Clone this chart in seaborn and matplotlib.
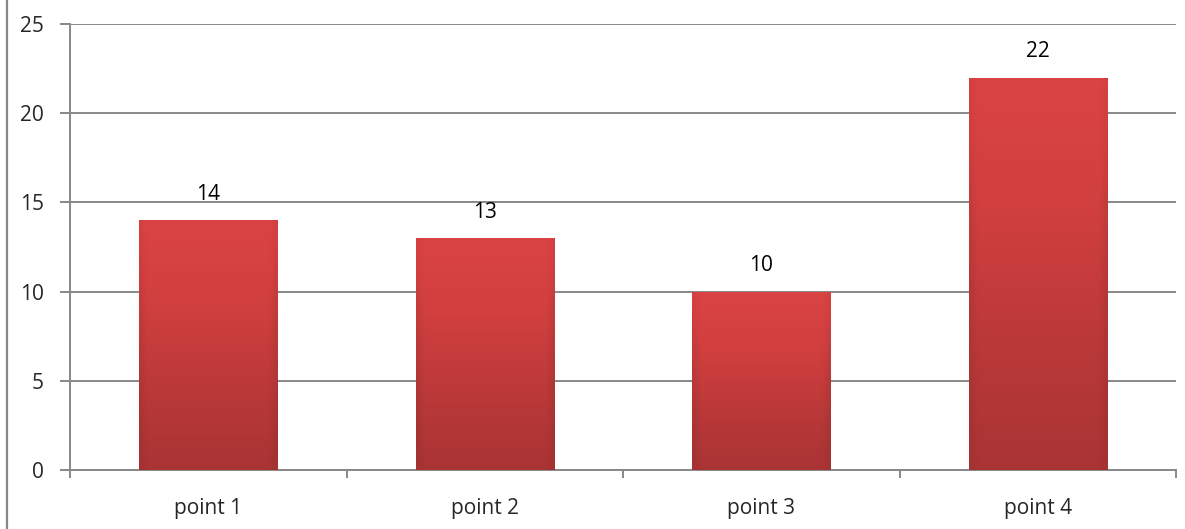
import numpy as np
import pandas as pd
import matplotlib
matplotlib.use("Agg")
import matplotlib.pyplot as plt
from matplotlib.colors import LinearSegmentedColormap
from matplotlib.lines import Line2D
import seaborn as sns

CATEGORIES = ["point 1", "point 2", "point 3", "point 4"]
VALUES = [14, 13, 10, 22]
Y_TICKS = [0, 5, 10, 15, 20, 25]

GRID_COLOR = "#888888"
BAR_CMAP = LinearSegmentedColormap.from_list(
    "excel_red", ["#a43232", "#b83838", "#d13f3f", "#dc4444"]
)


def shade_bars(ax):
    # vertical gradient with darker side edges, clipped to each bar
    ny, nx = 200, 60
    vert = np.linspace(0.0, 1.0, ny)[:, None]
    xs = np.linspace(-1, 1, nx)[None, :]
    edge = 0.2 * np.clip(np.abs(xs) - 0.88, 0, None) / 0.12
    shade = np.clip(vert * 0.85 + 0.1 - edge, 0, 1)
    for patch in ax.patches:
        x0, y0 = patch.get_x(), patch.get_y()
        w, h = patch.get_width(), patch.get_height()
        im = ax.imshow(
            shade,
            cmap=BAR_CMAP,
            vmin=0,
            vmax=1,
            origin="lower",
            extent=(x0, x0 + w, y0, y0 + h),
            aspect="auto",
            zorder=patch.get_zorder() + 0.1,
            interpolation="bilinear",
        )
        im.set_clip_path(patch)


def main():
    sns.set_style("white")
    plt.rcParams["font.family"] = ["Open Sans", "DejaVu Sans"]

    df = pd.DataFrame({"label": CATEGORIES, "value": VALUES})

    fig = plt.figure(figsize=(11.85, 5.29), dpi=100)
    ax = fig.add_axes([70 / 1185, 1 - 470 / 529, (1176 - 70) / 1185, (470 - 24) / 529])

    sns.barplot(
        data=df, x="label", y="value", color="#c83a3a", width=0.5,
        edgecolor="none", ax=ax, zorder=3,
    )
    shade_bars(ax)

    ax.set_xlim(-0.5, len(CATEGORIES) - 0.5)
    ax.set_ylim(Y_TICKS[0], Y_TICKS[-1])
    ax.set_yticks(Y_TICKS)
    ax.set_xlabel("")
    ax.set_ylabel("")

    ax.yaxis.grid(True, color=GRID_COLOR, linewidth=1.4, zorder=0)
    ax.set_axisbelow(True)
    for side in ["top", "right"]:
        ax.spines[side].set_visible(False)
    for side in ["left", "bottom"]:
        ax.spines[side].set_color(GRID_COLOR)
        ax.spines[side].set_linewidth(1.4)

    ax.tick_params(axis="y", length=7, width=1.4, color=GRID_COLOR,
                   labelsize=15, pad=12, left=True)
    # x ticks sit at category boundaries, labels at centres
    ax.set_xticks(np.arange(len(CATEGORIES) + 1) - 0.5, minor=False)
    ax.set_xticklabels([""] * (len(CATEGORIES) + 1))
    ax.tick_params(axis="x", length=6, width=1.4, color=GRID_COLOR, bottom=True)
    ax.set_xticks(np.arange(len(CATEGORIES)), minor=True)
    ax.set_xticklabels(CATEGORIES, minor=True)
    ax.tick_params(axis="x", which="minor", length=0, labelsize=15, pad=20)

    for i, v in enumerate(VALUES):
        ax.annotate(str(v), (i, v), xytext=(0, 11), textcoords="offset points",
                    ha="center", va="bottom", fontsize=15, color="black")

    # chart frame edge on the left of the image
    fig.add_artist(Line2D([6.5 / 1185, 6.5 / 1185], [0, 1], color=GRID_COLOR,
                          linewidth=1.6, transform=fig.transFigure))

    fig.savefig("out.png", dpi=100)
    plt.close(fig)


if __name__ == "__main__":
    main()
